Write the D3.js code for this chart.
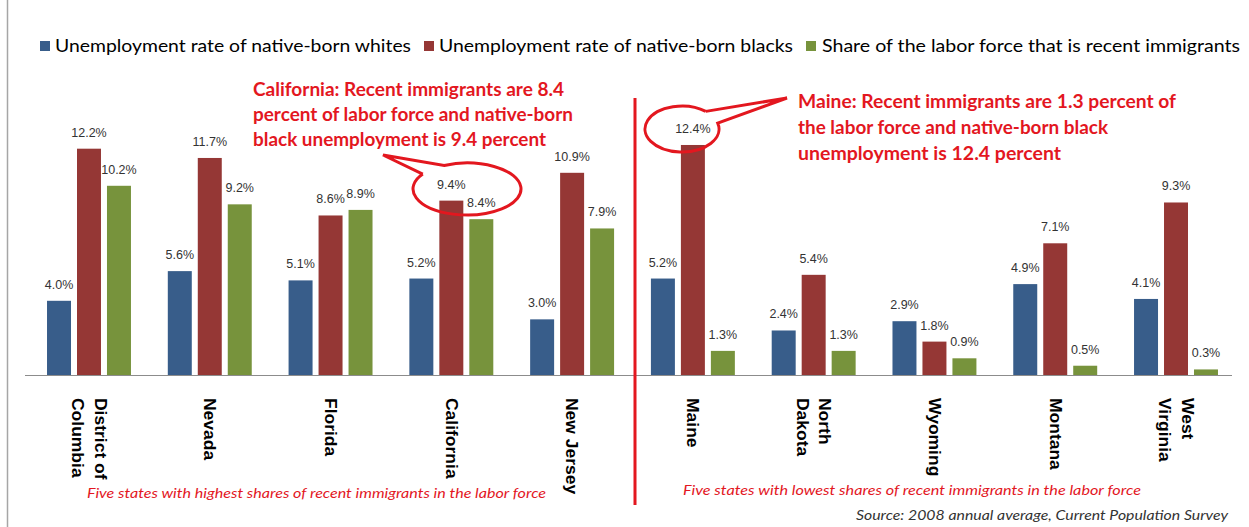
<!DOCTYPE html>
<html lang="en">
  <head>
    <meta charset="UTF-8" />
    <title>Unemployment and recent immigrants by state</title>
    <script src="https://d3js.org/d3.v7.min.js"></script>
    <style>
      body {
        margin: 0;
        background: #ffffff;
      }
      svg {
        display: block;
      }
    </style>
  </head>
  <body>
    <div id="chart"></div>
    <script>
      // data
      const states = [
        'District of Columbia',
        'Nevada',
        'Florida',
        'California',
        'New Jersey',
        'Maine',
        'North Dakota',
        'Wyoming',
        'Montana',
        'West Virginia',
      ];
      const stateLines = [
        ['District of', 'Columbia'],
        ['Nevada'],
        ['Florida'],
        ['California'],
        ['New Jersey'],
        ['Maine'],
        ['North', 'Dakota'],
        ['Wyoming'],
        ['Montana'],
        ['West', 'Virginia'],
      ];
      const whites = [4.0, 5.6, 5.1, 5.2, 3.0, 5.2, 2.4, 2.9, 4.9, 4.1];
      const blacks = [12.2, 11.7, 8.6, 9.4, 10.9, 12.4, 5.4, 1.8, 7.1, 9.3];
      const immigrants = [10.2, 9.2, 8.9, 8.4, 7.9, 1.3, 1.3, 0.9, 0.5, 0.3];
      const seriesNames = [
        'Unemployment rate of native-born whites',
        'Unemployment rate of native-born blacks',
        'Share of the labor force that is recent immigrants',
      ];
      const seriesValues = [whites, blacks, immigrants];

      const californiaNote = [
        'California: Recent immigrants are 8.4',
        'percent of labor force and native-born',
        'black unemployment is 9.4 percent',
      ];
      const maineNote = [
        'Maine: Recent immigrants are 1.3 percent of',
        'the labor force and native-born black',
        'unemployment is 12.4 percent',
      ];
      const highNote =
        'Five states with highest shares of recent immigrants in the labor force';
      const lowNote =
        'Five states with lowest shares of recent immigrants in the labor force';
      const sourceNote = 'Source: 2008 annual average, Current Population Survey';

      const w = 1249,
        h = 527;
      const colors = ['#385d8a', '#953735', '#77933c'];
      const noteRed = '#e3171f';

      const svg = d3
        .select('#chart')
        .append('svg')
        .attr('width', w)
        .attr('height', h);

      // frame edge on the left
      svg
        .append('line')
        .attr('x1', 7.5)
        .attr('x2', 7.5)
        .attr('y1', 0)
        .attr('y2', h)
        .attr('stroke', '#a6a6a6')
        .attr('stroke-width', 1.5);

      const x0 = d3
        .scaleBand()
        .domain(states)
        .range([28.6, 1236.4])
        .paddingInner(0.305)
        .paddingOuter(0.1525);
      const x1 = d3
        .scaleBand()
        .domain(d3.range(3))
        .range([0, x0.bandwidth()])
        .paddingInner(0.2);
      const y = d3.scaleLinear().domain([0, 14]).range([375, 115.3]);

      function fit(sel, len) {
        return sel.attr('textLength', len).attr('lengthAdjust', 'spacingAndGlyphs');
      }

      // bars
      const groups = svg
        .selectAll('g.state')
        .data(states)
        .join('g')
        .attr('class', 'state')
        .attr('transform', (d) => `translate(${x0(d)},0)`);

      groups
        .selectAll('rect')
        .data((d, i) => seriesValues.map((s, k) => ({ k, v: s[i] })))
        .join('rect')
        .attr('x', (d) => x1(d.k))
        .attr('width', x1.bandwidth())
        .attr('y', (d) => y(d.v))
        .attr('height', (d) => y(0) - y(d.v))
        .attr('fill', (d) => colors[d.k]);

      groups
        .selectAll('text.val')
        .data((d, i) => seriesValues.map((s, k) => ({ k, v: s[i] })))
        .join('text')
        .attr('class', 'val')
        .attr('x', (d) => x1(d.k) + x1.bandwidth() / 2)
        .attr('y', (d) => y(d.v) - 12)
        .attr('text-anchor', 'middle')
        .attr('font-family', 'Liberation Sans, Arial, sans-serif')
        .attr('font-size', 12.5)
        .attr('fill', '#333')
        .text((d) => d3.format('.1f')(d.v) + '%');

      // x axis line
      svg
        .append('line')
        .attr('x1', 25)
        .attr('x2', 1232)
        .attr('y1', y(0) + 0.5)
        .attr('y2', y(0) + 0.5)
        .attr('stroke', '#8c8c8c')
        .attr('stroke-width', 1);

      // rotated category labels
      states.forEach((s, i) => {
        const lines = stateLines[i];
        const cx = x0(s) + x0.bandwidth() / 2;
        const gap = 25;
        const t = svg
          .append('text')
          .attr(
            'transform',
            `translate(${cx},398) rotate(90) scale(1,0.9)`,
          )
          .attr('font-family', 'Liberation Sans, Arial, sans-serif')
          .attr('font-weight', 'bold')
          .attr('font-size', 17.5)
          .attr('fill', '#000');
        lines.forEach((ln, j) => {
          const off = (j - (lines.length - 1) / 2) * gap;
          t.append('tspan')
            .attr('x', 0)
            .attr('y', off)
            .attr('dy', '0.36em')
            .text(ln);
        });
      });

      // legend
      const legendPos = [
        { sx: 40, tx: 55, tw: 356 },
        { sx: 424, tx: 439, tw: 354 },
        { sx: 806, tx: 822, tw: 418 },
      ];
      seriesNames.forEach((name, k) => {
        const p = legendPos[k];
        svg
          .append('rect')
          .attr('x', p.sx)
          .attr('y', 41)
          .attr('width', 10)
          .attr('height', 10)
          .attr('fill', colors[k]);
        fit(
          svg
            .append('text')
            .attr('x', p.tx)
            .attr('y', 52)
            .attr('font-family', 'Lato, Noto Sans, sans-serif')
            .attr('font-size', 18)
            .attr('fill', '#000')
            .text(name),
          p.tw,
        );
      });

      // annotations
      const calWidths = [311, 320, 293];
      californiaNote.forEach((ln, j) => {
        fit(
          svg
            .append('text')
            .attr('x', 253)
            .attr('y', 96 + j * 25)
            .attr('font-family', 'Lato, Noto Sans, sans-serif')
            .attr('font-weight', 'bold')
            .attr('font-size', 18)
            .attr('fill', noteRed)
            .text(ln),
          calWidths[j],
        );
      });
      const maineWidths = [378, 310, 263];
      maineNote.forEach((ln, j) => {
        fit(
          svg
            .append('text')
            .attr('x', 798)
            .attr('y', 108 + j * 26)
            .attr('font-family', 'Lato, Noto Sans, sans-serif')
            .attr('font-weight', 'bold')
            .attr('font-size', 18)
            .attr('fill', noteRed)
            .text(ln),
          maineWidths[j],
        );
      });

      // speech bubbles: tail goes out at angle a1 and back in at a2,
      // the long arc closes the loop clockwise
      function bubble(cx, cy, rx, ry, a1, a2, tip) {
        const p = (a) => [
          cx + rx * Math.cos((a * Math.PI) / 180),
          cy + ry * Math.sin((a * Math.PI) / 180),
        ];
        const s = p(a1),
          e = p(a2);
        const path = d3.path();
        path.moveTo(s[0], s[1]);
        path.lineTo(tip[0], tip[1]);
        path.lineTo(e[0], e[1]);
        svg
          .append('path')
          .attr(
            'd',
            path.toString() +
              `A${rx},${ry} 0 1 1 ${s[0]},${s[1]}`,
          )
          .attr('fill', 'none')
          .attr('stroke', noteRed)
          .attr('stroke-width', 3)
          .attr('stroke-linejoin', 'miter');
      }
      bubble(467, 189, 54, 26, 215, 245, [383, 155]);
      bubble(682, 129, 37, 23, -50, -15, [787, 98]);

      // divider
      svg
        .append('line')
        .attr('x1', 635)
        .attr('x2', 635)
        .attr('y1', 98)
        .attr('y2', 505)
        .attr('stroke', noteRed)
        .attr('stroke-width', 3);

      // footnotes
      fit(
        svg
          .append('text')
          .attr('x', 87)
          .attr('y', 498)
          .attr('font-family', 'Lato, Noto Sans, sans-serif')
          .attr('font-style', 'italic')
          .attr('font-size', 13)
          .attr('fill', noteRed)
          .text(highNote),
        459,
      );
      fit(
        svg
          .append('text')
          .attr('x', 683)
          .attr('y', 495)
          .attr('font-family', 'Lato, Noto Sans, sans-serif')
          .attr('font-style', 'italic')
          .attr('font-size', 13)
          .attr('fill', noteRed)
          .text(lowNote),
        458,
      );
      fit(
        svg
          .append('text')
          .attr('x', 856)
          .attr('y', 520)
          .attr('font-family', 'Lato, Noto Sans, sans-serif')
          .attr('font-style', 'italic')
          .attr('font-size', 13)
          .attr('fill', '#333')
          .text(sourceNote),
        372,
      );
    </script>
  </body>
</html>
